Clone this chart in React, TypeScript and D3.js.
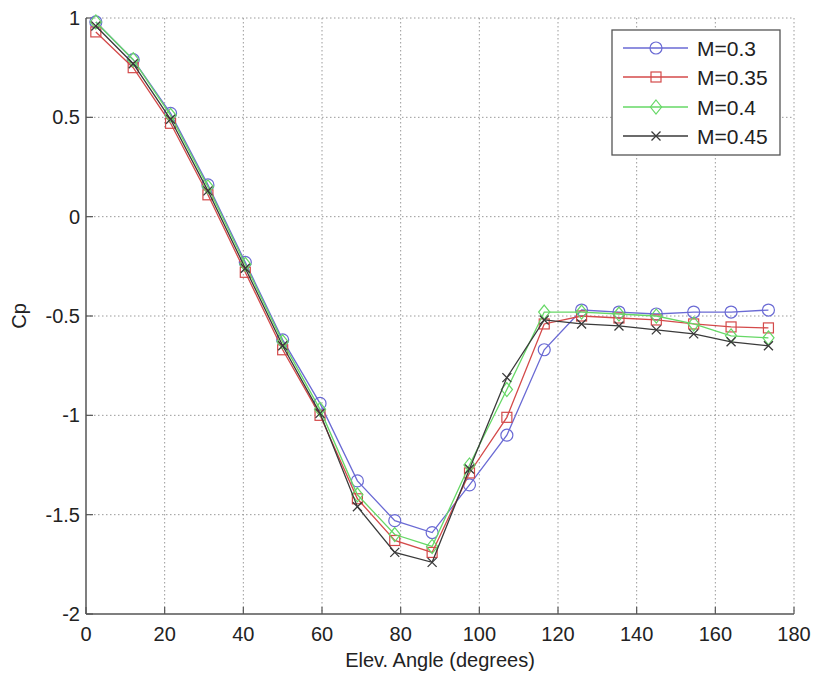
import React from "react";
import * as d3 from "d3";

// elevation angles (degrees) where Cp was sampled
const angles = [2.5, 12, 21.5, 31, 40.5, 50, 59.5, 69, 78.5, 88, 97.5, 107, 116.5, 126, 135.5, 145, 154.5, 164, 173.5];

// Cp per Mach number
const cpM030 = [0.98, 0.79, 0.52, 0.16, -0.23, -0.62, -0.94, -1.33, -1.53, -1.59, -1.35, -1.1, -0.67, -0.47, -0.48, -0.49, -0.48, -0.48, -0.47];
const cpM035 = [0.93, 0.75, 0.47, 0.11, -0.28, -0.67, -1.0, -1.42, -1.63, -1.69, -1.29, -1.01, -0.54, -0.5, -0.51, -0.52, -0.54, -0.555, -0.56];
const cpM040 = [0.98, 0.79, 0.51, 0.15, -0.24, -0.63, -0.97, -1.4, -1.6, -1.66, -1.25, -0.87, -0.48, -0.48, -0.49, -0.5, -0.54, -0.6, -0.61];
const cpM045 = [0.96, 0.77, 0.49, 0.13, -0.26, -0.65, -0.99, -1.46, -1.69, -1.74, -1.27, -0.81, -0.52, -0.54, -0.55, -0.57, -0.59, -0.63, -0.65];

const seriesNames = ["M=0.3", "M=0.35", "M=0.4", "M=0.45"];
const seriesValues = [cpM030, cpM035, cpM040, cpM045];
const seriesColors = ["#6a6ad4", "#d44a4a", "#66d866", "#3a3a3a"];
const seriesMarkers = ["circle", "square", "diamond", "x"];

const xTicks = [0, 20, 40, 60, 80, 100, 120, 140, 160, 180];
const yTicks = [-2, -1.5, -1, -0.5, 0, 0.5, 1];

const W = 816, H = 677;
const left = 86, right = 794, top = 18, bottom = 614;
const FONT = "'Liberation Sans', Arial, sans-serif";

function Marker({ type, cx, cy, color }: { type: string; cx: number; cy: number; color: string }) {
  if (type === "circle") return <circle cx={cx} cy={cy} r={6} fill="none" stroke={color} strokeWidth={1.2} />;
  if (type === "square") return <rect x={cx - 5} y={cy - 5} width={10} height={10} fill="none" stroke={color} strokeWidth={1.2} />;
  if (type === "diamond") {
    const d = 7;
    return <path d={`M${cx},${cy - d}L${cx + d * 0.8},${cy}L${cx},${cy + d}L${cx - d * 0.8},${cy}Z`} fill="none" stroke={color} strokeWidth={1.2} />;
  }
  const s = 4.5;
  return <path d={`M${cx - s},${cy - s}L${cx + s},${cy + s}M${cx - s},${cy + s}L${cx + s},${cy - s}`} stroke={color} strokeWidth={1.3} />;
}

export default function App() {
  const x = d3.scaleLinear().domain([0, 180]).range([left, right]);
  const y = d3.scaleLinear().domain([-2, 1]).range([bottom, top]);

  const line = d3.line<number>()
    .x((_, i) => x(angles[i]))
    .y((d) => y(d));

  // legend geometry
  const lgX = 612, lgY = 30, lgW = 168, lgH = 125;
  const rowY = [48, 77, 107, 136];

  return (
    <svg width={W} height={H} style={{ position: "absolute", left: 0, top: 0, background: "#fff" }} fontFamily={FONT}>
      <rect width={W} height={H} fill="#fff" />

      {/* grid */}
      {xTicks.filter((t) => t > 0).map((t) => (
        <line key={"gx" + t} x1={x(t)} x2={x(t)} y1={top} y2={bottom} stroke="#9a9a9a" strokeWidth={1} strokeDasharray="1.5 2.5" />
      ))}
      {yTicks.filter((t) => t > -2).map((t) => (
        <line key={"gy" + t} x1={left} x2={right} y1={y(t)} y2={y(t)} stroke="#9a9a9a" strokeWidth={1} strokeDasharray="1.5 2.5" />
      ))}

      {/* axes */}
      <line x1={left} x2={left} y1={top} y2={bottom} stroke="#555" strokeWidth={1.5} />
      <line x1={left} x2={right} y1={bottom} y2={bottom} stroke="#555" strokeWidth={1.5} />
      {xTicks.map((t) => (
        <g key={"xt" + t}>
          <line x1={x(t)} x2={x(t)} y1={bottom} y2={bottom - 7} stroke="#555" strokeWidth={1.2} />
          <text x={x(t)} y={bottom + 27} textAnchor="middle" fontSize={20} fill="#222">{t}</text>
        </g>
      ))}
      {yTicks.map((t) => (
        <g key={"yt" + t}>
          <line x1={left} x2={left + 7} y1={y(t)} y2={y(t)} stroke="#555" strokeWidth={1.2} />
          <text x={left - 6} y={y(t)} dy="0.35em" textAnchor="end" fontSize={20} fill="#222">{t}</text>
        </g>
      ))}

      <text x={(left + right) / 2} y={667} textAnchor="middle" fontSize={20} fill="#222">Elev. Angle (degrees)</text>
      <text transform={`translate(26, ${(top + bottom) / 2}) rotate(-90)`} textAnchor="middle" fontSize={20} fill="#222">Cp</text>

      {/* series */}
      {seriesValues.map((vals, si) => (
        <g key={"s" + si}>
          <path d={line(vals) || ""} fill="none" stroke={seriesColors[si]} strokeWidth={1.3} />
          {vals.map((v, i) => (
            <Marker key={i} type={seriesMarkers[si]} cx={x(angles[i])} cy={y(v)} color={seriesColors[si]} />
          ))}
        </g>
      ))}

      {/* legend */}
      <rect x={lgX} y={lgY} width={lgW} height={lgH} fill="#fff" stroke="#555" strokeWidth={1.3} />
      {seriesNames.map((name, si) => (
        <g key={"lg" + si}>
          <line x1={623} x2={688} y1={rowY[si]} y2={rowY[si]} stroke={seriesColors[si]} strokeWidth={1.3} />
          <Marker type={seriesMarkers[si]} cx={656} cy={rowY[si]} color={seriesColors[si]} />
          <text x={697} y={rowY[si]} dy="0.36em" fontSize={21} fill="#222">{name}</text>
        </g>
      ))}
    </svg>
  );
}
